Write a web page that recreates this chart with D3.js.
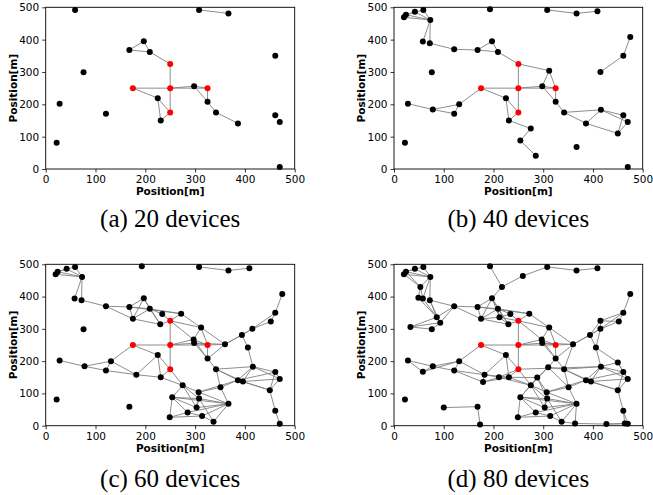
<!DOCTYPE html>
<html><head><meta charset="utf-8">
<script src="https://cdn.jsdelivr.net/npm/d3@7"></script>
<style>
html,body{margin:0;padding:0;background:#fff;}
svg{display:block;}
</style></head>
<body>
<svg id="chart" width="653" height="495"></svg>
<script>
// ---------- DATA ----------
const tickValues = [0, 100, 200, 300, 400, 500];
const axisLabel = "Position[m]";
const captions = ["(a) 20 devices", "(b) 40 devices", "(c) 60 devices", "(d) 80 devices"];
const deviceCounts = [20, 40, 60, 80];

// red nodes (R1..R5)
const redNodes = [[250,325],[175,250],[250,250],[325,250],[250,175]];

// devices D1..D20
const devices20 = [[59,492],[308,492],[367,481],[197,395],[168,368],[209,362],[461,350],[76,299],[298,256],[225,219],
  [325,208],[28,202],[121,171],[342,175],[461,166],[470,145],[231,150],[386,141],[22,81],[470,6]];
// D21..D40
const devices40 = [[20,469],[24,477],[42,486],[73,461],[58,394],[72,389],[121,370],[193,494],[409,488],[475,408],
  [415,300],[312,304],[78,184],[131,200],[416,183],[275,125],[450,110],[254,88],[367,68],[285,41]];
// D41..D60
const devices60 = [[175,331],[234,346],[272,347],[230,314],[452,323],[394,281],[297,267],[360,252],[406,242],[182,158],
  [396,137],[351,119],[307,104],[308,84],[303,56],[314,30],[249,26],[337,12],[461,46],[168,59]];
// D61..D80
const devices80 = [[53,430],[49,396],[86,336],[93,319],[33,306],[212,336],[217,430],[259,464],[415,325],[58,167],
  [179,135],[211,150],[100,56],[173,4],[310,181],[288,149],[364,7],[427,5],[464,7],[450,196]];

const edgesA = ["D2-D3","D5-D4","D5-D6","D4-D6","D6-R1","R1-R3","R2-R3","R2-D10","R3-D9","R3-R4","D9-R4","R3-R5",
  "D10-R5","D10-D17","D17-R5","D9-D11","R4-D11","D11-D14","D14-D18"];

const edgesB = ["D21-D22","D22-D23","D21-D24","D22-D24","D23-D24","D1-D24","D22-D1","D24-D25","D24-D26","D26-D27",
  "D27-D5","D5-D4","D5-D6","D4-D6","D6-R1","R1-D32","R1-R3","D32-D9","D32-R4","R2-R3","R2-D10","R2-D34","R3-D9",
  "R3-R4","D9-R4","R3-R5","D10-R5","D10-D17","D17-R5","D17-D36","D36-D38","D38-D40","D9-D11","R4-D11","D11-D14",
  "D14-D35","D14-D18","D18-D35","D35-D15","D35-D16","D18-D37","D37-D15","D37-D16","D15-D16","D31-D7","D7-D30",
  "D2-D3","D3-D29","D12-D33","D33-D34","D33-D13","D13-D34"];

const edgesC = ["D21-D22","D22-D23","D21-D24","D22-D24","D23-D24","D1-D24","D22-D1","D24-D25","D24-D26","D26-D27",
  "D27-D5","D27-D41","D5-D4","D5-D6","D4-D6","D5-D41","D4-D41","D41-D6","D41-D44","D4-D44","D6-D44","D6-D42",
  "D6-D43","D5-D43","D42-R1","D44-R1","D43-R1","D43-D32","R1-D32","R1-R3","R1-D47","R2-R3","R2-D10","R2-D34",
  "R3-D9","R3-D47","R3-R4","D9-R4","D47-R4","D9-D47","D32-D47","D32-R4","D32-D48","R3-R5","D10-R5","D10-D17",
  "D17-R5","D10-D50","D50-D17","D50-D13","D50-D34","D47-D11","D9-D11","R4-D11","D48-R4","D48-D9","D48-D11",
  "D48-D46","D48-D31","D46-D31","D46-D49","D31-D45","D31-D7","D45-D7","D7-D30","D49-D35","D11-D14","D14-D35",
  "D14-D18","D14-D51","D14-D52","D18-D35","D51-D35","D18-D51","D35-D15","D35-D16","D18-D15","D51-D16","D18-D37",
  "D51-D37","D37-D15","D37-D16","D15-D16","D37-D59","D59-D20","D52-D18","D2-D3","D3-D29","D12-D33","D33-D34",
  "D33-D13","D13-D34","R5-D36","D17-D36","D36-D38","D36-D53","D36-D54","D36-D55","D38-D54","D38-D40","D38-D57",
  "D38-D39","D38-D55","D53-D52","D53-D39","D53-D54","D53-D55","D53-D18","D54-D39","D54-D55","D54-D58","D55-D39",
  "D40-D39","D40-D57","D40-D56","D57-D56","D56-D39","D56-D58","D58-D39","D52-D39"];

const edgesD = edgesC.concat(["D61-D22","D61-D21","D61-D24","D61-D62","D61-D25","D62-D25","D62-D63","D25-D63",
  "D26-D63","D63-D64","D63-D27","D64-D27","D63-D65","D64-D65","D65-D8","D64-D8","D26-D64","D28-D67","D67-D4",
  "D67-D68","D68-D2","D66-D41","D66-D6","D66-D42","D66-D44","D66-R1","D66-D4","D69-D46","D69-D45","D69-D7",
  "D69-D31","D49-D31","D12-D70","D70-D34","D70-D33","D13-D71","D71-D50","D71-D72","D71-D17","D50-D72","D72-D17",
  "D72-R5","D72-D36","D73-D60","D60-D74","D75-D11","D75-D14","D75-D76","D75-D36","D75-D52","D76-D36","D76-D38",
  "D76-D53","D76-D54","D76-D17","R5-D35","D35-D80","D80-D15","D80-D49","D80-D16","D39-D77","D58-D77","D77-D78",
  "D78-D79","D78-D20","D79-D20","D59-D79","D48-D14"]);

// ---------- LAYOUT ----------
const panels = [
  {x0:45.7, x1:294.7, y0:7.3,   y1:169,   capY:227, edges:edgesA},
  {x0:394,  x1:642.7, y0:7.3,   y1:169,   capY:227, edges:edgesB},
  {x0:45.7, x1:294.7, y0:264.3, y1:425.7, capY:487, edges:edgesC},
  {x0:394,  x1:642.7, y0:264.3, y1:425.7, capY:487, edges:edgesD}
];

const allDevices = devices20.concat(devices40, devices60, devices80);
const nodeById = {};
redNodes.forEach((p,i)=> nodeById["R"+(i+1)] = p);
allDevices.forEach((p,i)=> nodeById["D"+(i+1)] = p);

const svg = d3.select("#chart");
const tickFont = "DejaVu Sans, sans-serif";

panels.forEach((P, k) => {
  const x = d3.scaleLinear().domain([0,500]).range([P.x0, P.x1]);
  const y = d3.scaleLinear().domain([0,500]).range([P.y1, P.y0]);
  const g = svg.append("g");

  // axes
  const ax = g.append("g").attr("transform", `translate(0,${P.y1})`)
    .call(d3.axisBottom(x).tickValues(tickValues).tickSize(3.5).tickPadding(3));
  const ay = g.append("g").attr("transform", `translate(${P.x0},0)`)
    .call(d3.axisLeft(y).tickValues(tickValues).tickSize(3.5).tickPadding(3));
  [ax, ay].forEach(a => {
    a.select(".domain").remove();
    a.selectAll("text").attr("font-family", tickFont).attr("font-size", 10.5).attr("fill", "#000");
    a.selectAll("line").attr("stroke", "#000").attr("stroke-width", 0.8);
  });

  // edges
  const n = deviceCounts[k];
  g.append("g").selectAll("line").data(P.edges).join("line")
    .attr("x1", d => x(nodeById[d.split("-")[0]][0]))
    .attr("y1", d => y(nodeById[d.split("-")[0]][1]))
    .attr("x2", d => x(nodeById[d.split("-")[1]][0]))
    .attr("y2", d => y(nodeById[d.split("-")[1]][1]))
    .attr("stroke", "#808080").attr("stroke-width", 0.9);

  // device nodes
  g.append("g").selectAll("circle").data(allDevices.slice(0, n)).join("circle")
    .attr("cx", d => x(d[0])).attr("cy", d => y(d[1])).attr("r", 3).attr("fill", "#000");
  // red nodes
  g.append("g").selectAll("circle").data(redNodes).join("circle")
    .attr("cx", d => x(d[0])).attr("cy", d => y(d[1])).attr("r", 3).attr("fill", "#ff0000");

  // frame
  g.append("rect").attr("x", P.x0).attr("y", P.y0)
    .attr("width", P.x1 - P.x0).attr("height", P.y1 - P.y0)
    .attr("fill", "none").attr("stroke", "#000").attr("stroke-width", 0.9);

  // axis labels
  g.append("text").attr("x", (P.x0 + P.x1)/2).attr("y", P.y1 + 26)
    .attr("text-anchor", "middle").attr("font-family", tickFont).attr("font-weight", "bold")
    .attr("font-size", 10.5).text(axisLabel);
  g.append("text").attr("transform", `translate(${P.x0 - 29},${(P.y0 + P.y1)/2}) rotate(-90)`)
    .attr("text-anchor", "middle").attr("font-family", tickFont).attr("font-weight", "bold")
    .attr("font-size", 10.5).text(axisLabel);

  // caption
  g.append("text").attr("x", (P.x0 + P.x1)/2).attr("y", P.capY)
    .attr("text-anchor", "middle").attr("font-family", "Liberation Serif, Times New Roman, serif")
    .attr("font-size", 25).text(captions[k]);
});
</script>
</body></html>
